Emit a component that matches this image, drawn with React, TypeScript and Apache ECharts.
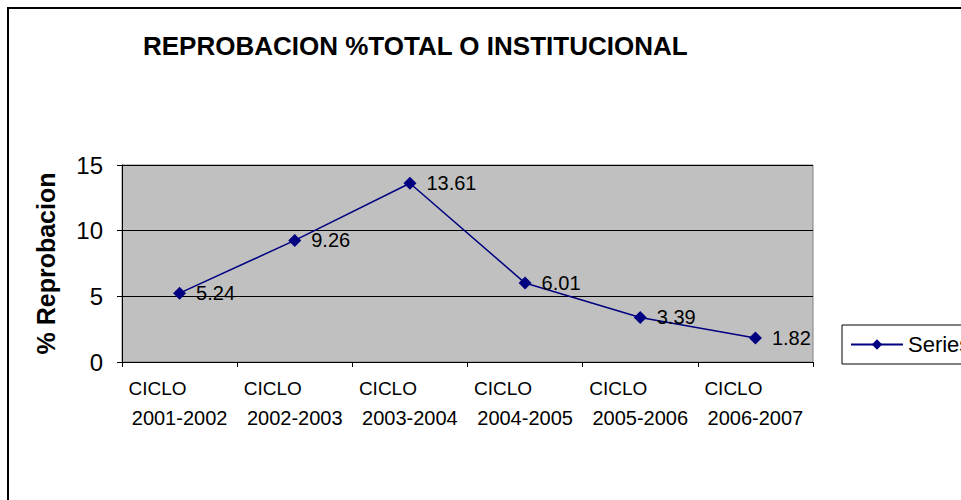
import React, { useEffect, useRef } from "react";
import * as echarts from "echarts";

const titleText = "REPROBACION %TOTAL O INSTITUCIONAL";
const yAxisName = "% Reprobacion";
const cyclePrefix = "CICLO";
const cycleYears = ["2001-2002", "2002-2003", "2003-2004", "2004-2005", "2005-2006", "2006-2007"];
const reprobacion = [5.24, 9.26, 13.61, 6.01, 3.39, 1.82];
const seriesName = "Series1";
const yMin = 0;
const yMax = 15;
const yInterval = 5;

const FONT = "'Liberation Sans', Arial, Helvetica, sans-serif";

export default function App() {
  const ref = useRef<HTMLDivElement>(null);
  useEffect(() => {
    if (!ref.current) return;
    const chart = echarts.init(ref.current, null, { renderer: "svg" });
    chart.setOption({
      animation: false,
      backgroundColor: "#ffffff",
      textStyle: { fontFamily: FONT },
      title: {
        text: titleText,
        left: 143,
        top: 33,
        padding: 0,
        textStyle: { fontFamily: FONT, fontSize: 26, fontWeight: "bold", color: "#000" },
      },
      graphic: [
        {
          type: "rect",
          shape: { x: 8, y: 8, width: 1200, height: 1000 },
          style: { fill: "none", stroke: "#000", lineWidth: 2 },
          silent: true,
          z: -10,
        },
      ],
      legend: {
        left: 842,
        top: 325,
        orient: "vertical",
        padding: [8, 80, 8, 8],
        borderColor: "#000",
        borderWidth: 1,
        backgroundColor: "#fff",
        itemWidth: 52,
        itemHeight: 13,
        textStyle: { fontFamily: FONT, fontSize: 22, color: "#000", lineHeight: 23 },
        data: [seriesName],
      },
      grid: {
        left: 122,
        top: 165,
        right: 148,
        bottom: 138,
        show: true,
        backgroundColor: "#C0C0C0",
        borderColor: "#808080",
        borderWidth: 1,
      },
      xAxis: {
        type: "category",
        data: cycleYears,
        boundaryGap: true,
        axisLine: { lineStyle: { color: "#000", width: 1 } },
        axisTick: { show: true, alignWithLabel: false, length: 5, lineStyle: { color: "#000" } },
        splitLine: { show: false },
        axisLabel: {
          margin: 11,
          interval: 0,
          formatter: (v: string) => `{a|${cyclePrefix}}\n{b|${v}}`,
          rich: {
            a: { fontFamily: FONT, fontSize: 19, color: "#000", lineHeight: 30, padding: [0, 44, 0, 0] },
            b: { fontFamily: FONT, fontSize: 20, color: "#000", lineHeight: 30 },
          },
        },
      },
      yAxis: {
        type: "value",
        min: yMin,
        max: yMax,
        interval: yInterval,
        name: yAxisName,
        nameLocation: "middle",
        nameGap: 64,
        nameTextStyle: { fontFamily: FONT, fontSize: 25, fontWeight: "bold", color: "#000" },
        axisLine: { show: true, lineStyle: { color: "#000", width: 1 } },
        axisTick: { show: true, length: 5, lineStyle: { color: "#000" } },
        splitLine: { show: true, lineStyle: { color: "#000", width: 1 } },
        axisLabel: { margin: 19, fontFamily: FONT, fontSize: 24, color: "#000" },
      },
      series: [
        {
          name: seriesName,
          type: "line",
          data: reprobacion,
          symbol: "diamond",
          symbolSize: 13,
          lineStyle: { color: "#000080", width: 1.5 },
          itemStyle: { color: "#000080" },
          label: {
            show: true,
            position: "right",
            distance: 10,
            fontFamily: FONT,
            fontSize: 20,
            color: "#000",
          },
        },
      ],
    });
    return () => chart.dispose();
  }, []);
  return (
    <div
      ref={ref}
      style={{ position: "absolute", left: 0, top: 0, width: 961, height: 500 }}
    />
  );
}
